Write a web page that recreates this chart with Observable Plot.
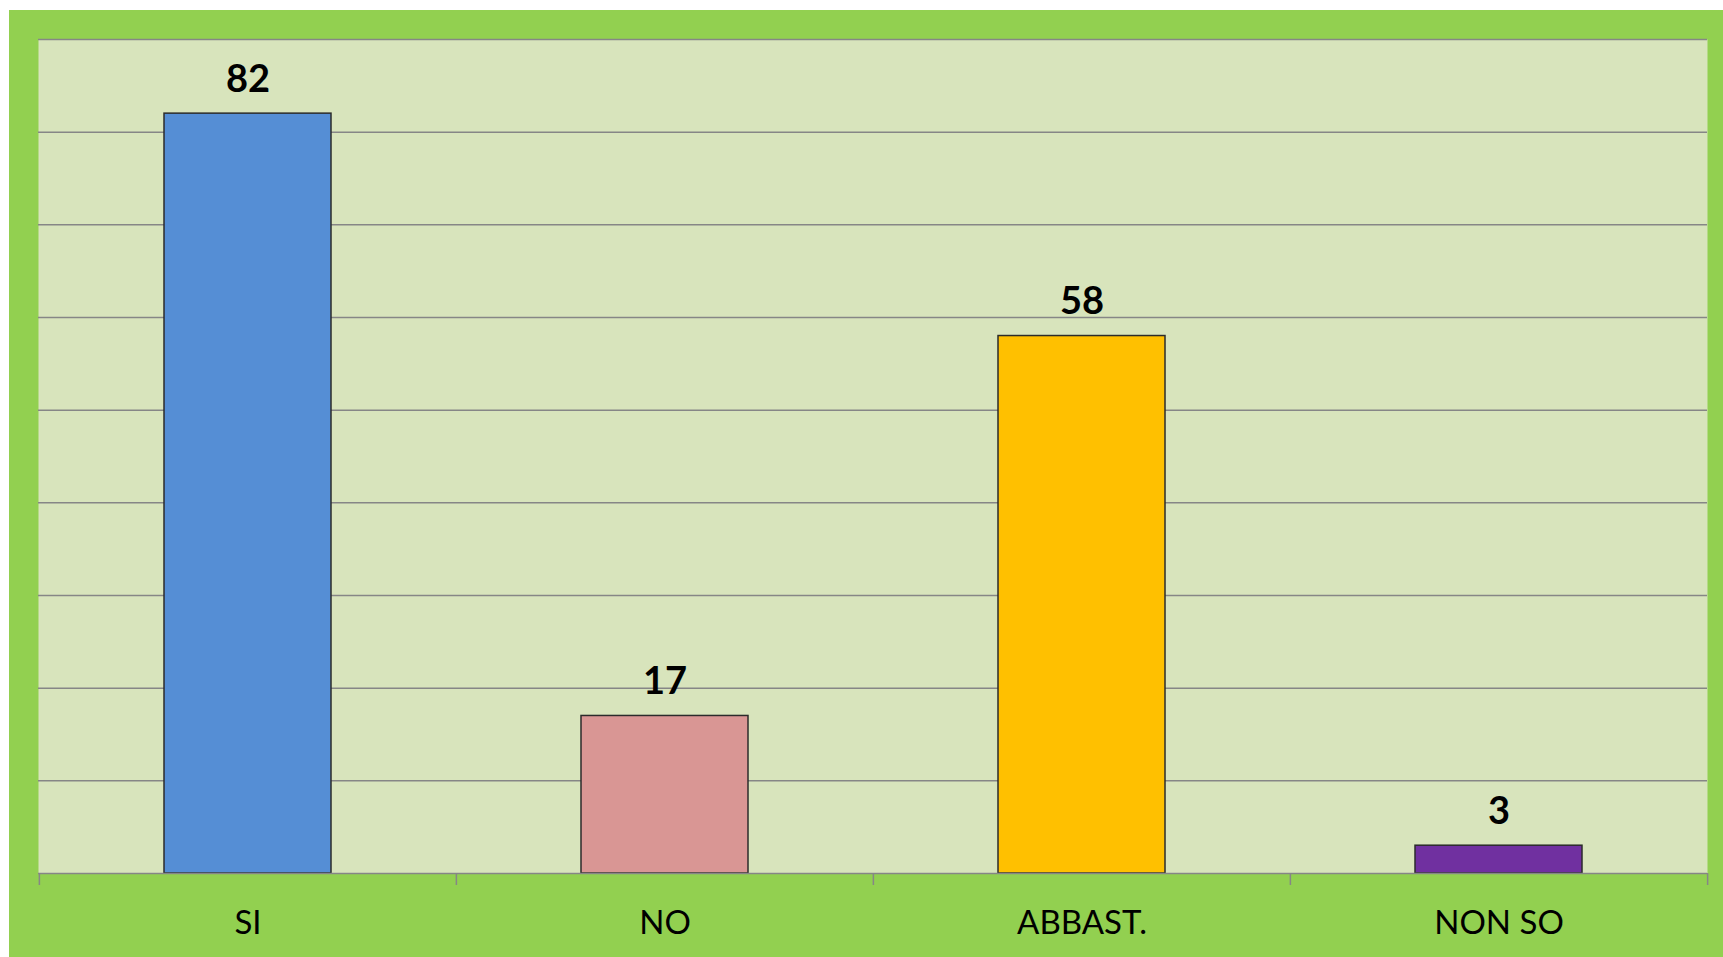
<!DOCTYPE html>
<html>
<head>
<meta charset="utf-8">
<script src="https://cdn.jsdelivr.net/npm/d3@7"></script>
<script src="https://cdn.jsdelivr.net/npm/@observablehq/plot@0.6"></script>
<style>
  html, body { margin: 0; padding: 0; background: #ffffff; }
  #frame { position: absolute; left: 9px; top: 10px; width: 1714px; height: 947px; background: #92D050; }
  #frame svg { display: block; }
</style>
</head>
<body>
<div id="frame"></div>
<script>
const categories = ["SI", "NO", "ABBAST.", "NON SO"];
const values = [82, 17, 58, 3];
const colors = ["#558ED5", "#D99694", "#FFC000", "#7030A0"];
const gridTicks = [10, 20, 30, 40, 50, 60, 70, 80, 90];

const data = categories.map((c, i) => ({cat: c, value: values[i], color: colors[i]}));

const W = 1714, H = 947;
const mL = 29, mR = 16, mT = 29, mB = 84;
const step = (W - mL - mR) / categories.length;

const chart = Plot.plot({
  width: W,
  height: H,
  marginLeft: mL,
  marginRight: mR,
  marginTop: mT,
  marginBottom: mB,
  style: {background: "transparent", fontFamily: "Lato, 'Open Sans', sans-serif", color: "#000"},
  x: {domain: categories, paddingInner: 0.6, paddingOuter: 0.3, label: null},
  y: {domain: [0, 90], label: null, axis: null},
  marks: [
    Plot.frame({fill: "#D8E4BC", stroke: "none"}),
    Plot.ruleY(gridTicks, {stroke: "#868686", strokeWidth: 1.5}),
    Plot.barY(data, {x: "cat", y: "value", fill: "color", stroke: "#2b2b2b", strokeWidth: 1.5}),
    Plot.ruleY([0], {stroke: "#868686", strokeWidth: 1.5}),
    Plot.ruleX(categories, {x: d => d, y1: 0, y2: 0, insetBottom: -12, dx: -step / 2, stroke: "#868686", strokeWidth: 1.5}),
    Plot.ruleX([categories[categories.length - 1]], {x: d => d, y1: 0, y2: 0, insetBottom: -12, dx: step / 2, stroke: "#868686", strokeWidth: 1.5}),
    Plot.text(data, {x: "cat", y: "value", text: d => String(d.value), dy: -22, lineAnchor: "bottom", fontSize: 38, fontWeight: "bold", fill: "#000"}),
    Plot.axisX({tickSize: 0, tickPadding: 37, fontSize: 33, fill: "#000", label: null})
  ]
});
document.getElementById("frame").appendChild(chart);
</script>
</body>
</html>
